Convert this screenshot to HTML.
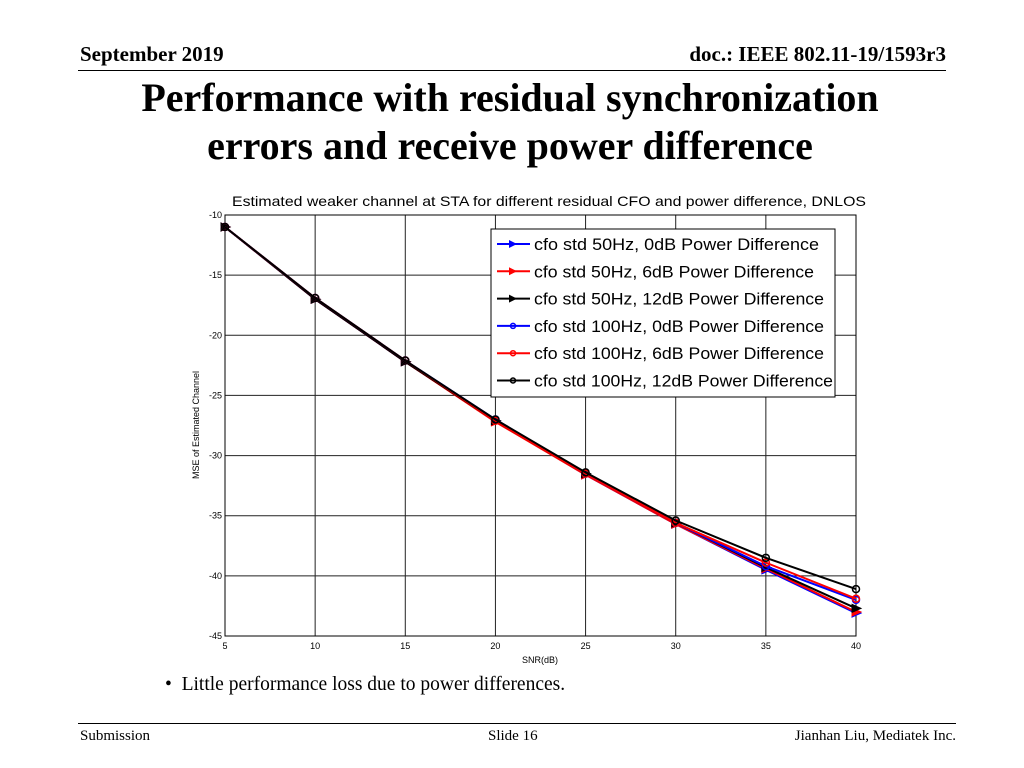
<!DOCTYPE html>
<html><head><meta charset="utf-8"><style>
body{margin:0;width:1024px;height:768px;background:#fff;font-family:"Liberation Serif",serif;position:relative;overflow:hidden}
.a{position:absolute}
</style></head><body>
<div class="a" style="left:80px;top:42px;font-size:21px;font-weight:bold">September 2019</div>
<div class="a" style="right:78px;top:42px;font-size:21px;font-weight:bold">doc.: IEEE 802.11-19/1593r3</div>
<div class="a" style="left:78px;top:70px;width:868px;height:1px;background:#000"></div>
<div class="a" style="left:0;width:1024px;top:74px;text-align:center;font-size:40px;font-weight:bold;line-height:48px;margin-left:-2px">Performance with residual synchronization<br>errors and receive power difference</div>
<svg class="a" style="left:0;top:0" width="1024" height="768">
<g id="grid"></g><g id="series"></g><g id="legend"></g>
</svg>
<div class="a" style="left:165px;top:674px;font-size:19.5px">•&nbsp; Little performance loss due to power differences.</div>
<div class="a" style="left:78px;top:723px;width:878px;height:1px;background:#000"></div>
<div class="a" style="left:80px;top:728px;font-size:15px">Submission</div>
<div class="a" style="left:488px;top:728px;font-size:15px">Slide 16</div>
<div class="a" style="right:68px;top:728px;font-size:15px">Jianhan Liu, Mediatek Inc.</div>
<script>
const snr=[5,10,15,20,25,30,35,40];
const xTicks=[5,10,15,20,25,30,35,40];
const yTicks=[-10,-15,-20,-25,-30,-35,-40,-45];
const s50_0=[-11.0,-17.0,-22.2,-27.1,-31.6,-35.7,-39.5,-43.1];
const s50_6=[-11.0,-17.0,-22.2,-27.2,-31.6,-35.7,-39.4,-43.0];
const s50_12=[-11.0,-17.0,-22.2,-27.1,-31.5,-35.6,-39.3,-42.7];
const s100_0=[-11.0,-16.9,-22.1,-27.0,-31.5,-35.6,-39.2,-42.0];
const s100_6=[-11.0,-16.9,-22.1,-27.1,-31.5,-35.6,-38.9,-41.9];
const s100_12=[-11.0,-16.9,-22.1,-27.0,-31.4,-35.4,-38.5,-41.1];
const labels=["cfo std 50Hz,  0dB Power Difference","cfo std 50Hz, 6dB Power Difference","cfo std 50Hz, 12dB Power Difference","cfo std 100Hz, 0dB Power Difference","cfo std 100Hz, 6dB Power Difference","cfo std 100Hz, 12dB Power Difference"];
const labelW=[285,280,290,290,290,299];
const X0=225,X1=856,Y0=215,Y1=636;
const xs=v=>X0+(v-5)/35*(X1-X0);
const ys=v=>Y0+(-10-v)/35*(Y1-Y0);
const NS="http://www.w3.org/2000/svg";
function mk(t,a,p){const e=document.createElementNS(NS,t);for(const k in a)e.setAttribute(k,a[k]);p.appendChild(e);return e;}
const g=document.getElementById('grid');
xTicks.forEach(t=>{const l=mk('line',{x1:xs(t),x2:xs(t),y1:Y0,y2:Y1,stroke:'#222','stroke-width':1},g);
const tx=mk('text',{x:xs(t),y:Y1+13,'font-size':9,'text-anchor':'middle','font-family':'Liberation Sans'},g);tx.textContent=t;});
yTicks.forEach(t=>{const l=mk('line',{x1:X0,x2:X1,y1:ys(t),y2:ys(t),stroke:'#222','stroke-width':1},g);
const tx=mk('text',{x:X0-3,y:ys(t)+3,'font-size':9,'text-anchor':'end','font-family':'Liberation Sans'},g);tx.textContent=t;});
const r=mk('rect',{x:X0,y:Y0,width:X1-X0,height:Y1-Y0,fill:'none',stroke:'#000'},g);
let t=mk('text',{x:232,y:206,'font-size':14,textLength:634,lengthAdjust:'spacingAndGlyphs','font-family':'Liberation Sans'},g);t.textContent="Estimated weaker channel at STA for different residual CFO and power difference, DNLOS";
t=mk('text',{x:540,y:663,'font-size':9,'text-anchor':'middle','font-family':'Liberation Sans'},g);t.textContent="SNR(dB)";
t=mk('text',{x:0,y:0,'font-size':9,'text-anchor':'middle','font-family':'Liberation Sans',transform:'translate(199,425) rotate(-90)'},g);t.textContent="MSE of Estimated Channel";
const series=[[s50_0,'#00f','tri'],[s50_6,'#f00','tri'],[s50_12,'#000','tri'],[s100_0,'#00f','circ'],[s100_6,'#f00','circ'],[s100_12,'#000','circ']];
const sg=document.getElementById('series');
function marker(type,x,y,c,p){if(type==='tri'){const m=mk('polygon',{points:`${x-4},${y-4} ${x+5},${y} ${x-4},${y+4}`,fill:c,stroke:c},p);return m;}return mk('circle',{cx:x,cy:y,r:3.5,fill:'none',stroke:c,'stroke-width':1.5},p);}
series.forEach((s,i)=>{const grp=mk('g',{},sg);
const pl=mk('polyline',{points:snr.map((x,j)=>xs(x)+','+ys(s[0][j])).join(' '),fill:'none',stroke:s[1],'stroke-width':2},grp);
snr.forEach((x,j)=>{const m=marker(s[2],xs(x),ys(s[0][j]),s[1],grp);});});
const lg=document.getElementById('legend');
const lb=mk('rect',{x:491,y:229,width:344,height:168,fill:'#fff',stroke:'#000'},lg);
series.forEach((s,i)=>{const y=244+i*27.3;const e=mk('g',{},lg);
mk('line',{x1:497,x2:530,y1:y,y2:y,stroke:s[1],'stroke-width':2},e);
if(s[2]==='tri')mk('polygon',{points:`509,${y-4} 517,${y} 509,${y+4}`,fill:s[1]},e);else mk('circle',{cx:513,cy:y,r:2.5,fill:'none',stroke:s[1],'stroke-width':1.5},e);
const tx=mk('text',{x:534,y:y+6,'font-size':16.5,textLength:labelW[i],lengthAdjust:'spacingAndGlyphs','font-family':'Liberation Sans'},e);tx.textContent=labels[i];});
</script>
</body></html>
